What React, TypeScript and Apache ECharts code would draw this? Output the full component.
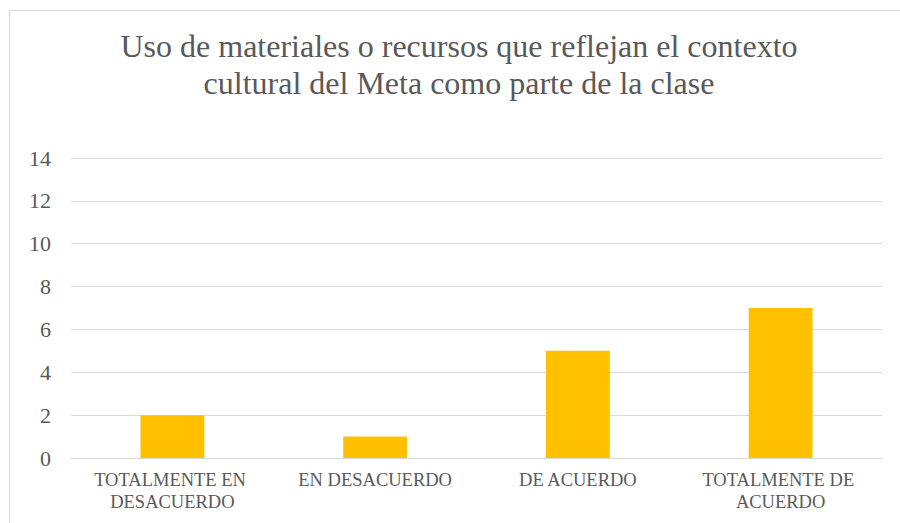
import React, { useEffect, useRef } from "react";
import * as echarts from "echarts";

const titleLines = [
  "Uso de materiales o recursos que reflejan el contexto",
  "cultural del Meta como parte de la clase",
];
const categories = [
  "TOTALMENTE EN DESACUERDO",
  "EN DESACUERDO",
  "DE ACUERDO",
  "TOTALMENTE DE ACUERDO",
];
const values = [2, 1, 5, 7];
const yMin = 0;
const yMax = 14;
const yStep = 2;

const FONT = "Liberation Serif";
const TEXT = "#595959";
const LINE = "#d9d9d9";

export default function App() {
  const ref = useRef<HTMLDivElement>(null);
  useEffect(() => {
    if (!ref.current) return;
    const chart = echarts.init(ref.current, null, { renderer: "svg" });
    chart.setOption({
      animation: false,
      backgroundColor: "#ffffff",
      textStyle: { fontFamily: FONT },
      graphic: [
        {
          type: "rect",
          shape: { x: 9.5, y: 10.5, width: 1000, height: 1000 },
          style: { fill: "none", stroke: LINE, lineWidth: 1 },
          silent: true,
          z: -1,
        },
        {
          type: "text",
          x: 459,
          y: 27,
          style: {
            text: titleLines.join("\n"),
            fontFamily: FONT,
            fontSize: 32,
            lineHeight: 37,
            fill: TEXT,
            textAlign: "center",
            textVerticalAlign: "top",
          },
          silent: true,
        },
      ],
      grid: { left: 71, right: 18, top: 158, bottom: 65, containLabel: false },
      xAxis: {
        type: "category",
        data: categories,
        axisLine: { show: true, lineStyle: { color: LINE, width: 1 } },
        axisTick: { show: false },
        axisLabel: {
          color: TEXT,
          fontFamily: FONT,
          fontSize: 18.5,
          lineHeight: 22,
          margin: 11,
          width: 190,
          overflow: "break",
          interval: 0,
        },
      },
      yAxis: {
        type: "value",
        min: yMin,
        max: yMax,
        interval: yStep,
        axisLine: { show: false },
        axisTick: { show: false },
        splitLine: { show: true, lineStyle: { color: LINE, width: 1 } },
        axisLabel: {
          color: TEXT,
          fontFamily: FONT,
          fontSize: 22,
          margin: 20,
        },
      },
      series: [
        {
          type: "bar",
          data: values,
          barWidth: "31.5%",
          itemStyle: { color: "#FFC000" },
        },
      ],
    });
    return () => chart.dispose();
  }, []);
  return (
    <div
      ref={ref}
      style={{ position: "fixed", left: 0, top: 0, width: 900, height: 523 }}
    />
  );
}
